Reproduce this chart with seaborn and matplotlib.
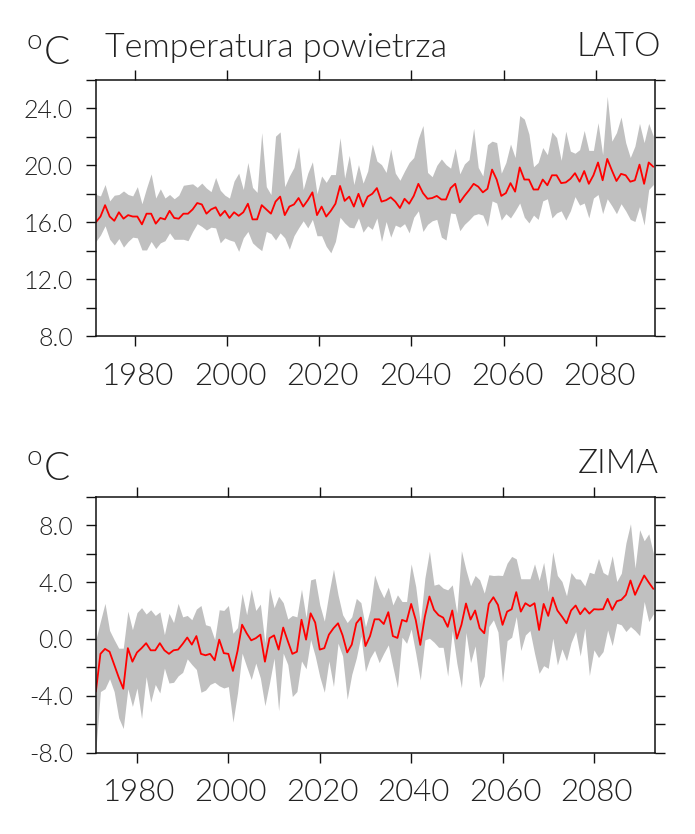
import numpy as np
import pandas as pd
import seaborn as sns
import matplotlib.pyplot as plt
from matplotlib.transforms import ScaledTranslation

# lato - values
lato_mean = [16.0,16.4,17.2,16.4,16.1,16.7,16.25,16.5,16.4,16.4,15.85,16.6,16.6,15.9,16.3,16.2,16.8,16.3,16.25,16.6,
             16.6,16.9,17.35,17.25,16.6,16.9,17.05,16.45,16.8,16.3,16.7,16.45,16.7,17.3,16.2,16.2,17.2,16.9,16.6,17.45,
             17.8,16.5,17.1,17.25,17.7,17.1,17.55,18.1,16.5,17.1,16.4,16.8,17.3,18.55,17.5,17.8,17.1,18.0,17.1,17.8,
             18.0,18.4,17.45,17.55,17.75,17.45,17.0,17.65,17.3,17.85,18.7,18.05,17.65,17.7,17.85,17.6,17.6,18.4,18.7,17.4,
             17.85,18.25,18.7,18.5,18.1,18.35,19.7,19.0,17.85,18.05,18.75,18.15,19.85,19.0,19.0,18.3,18.3,19.0,18.6,19.3,
             19.3,18.75,18.8,19.05,19.45,18.85,19.6,18.7,19.3,20.2,18.95,20.45,19.65,18.9,19.4,19.3,18.85,18.95,20.05,18.7,
             20.2,19.9]
lato_max = [17.95,17.85,18.65,17.5,17.9,17.95,18.2,17.95,17.85,18.5,17.3,18.4,19.4,17.7,18.35,17.7,17.95,17.65,17.9,18.6,
            18.65,18.7,18.45,18.75,18.4,18.15,19.15,18.25,17.9,17.7,18.9,19.45,18.3,20.2,18.45,18.1,22.3,18.5,17.95,22.05,
            22.35,18.5,19.25,19.85,21.3,18.3,19.45,20.25,18.0,19.25,18.8,19.35,19.35,21.95,19.1,20.7,18.65,20.05,18.75,19.6,
            21.5,20.3,20.05,19.5,21.15,19.45,18.95,19.6,20.2,20.55,21.9,22.8,19.5,19.2,20.0,20.45,20.05,19.8,21.2,19.4,
            20.1,20.4,22.6,19.85,19.25,21.45,21.7,21.6,19.45,20.2,21.5,20.55,23.5,23.25,22.2,19.9,20.2,21.25,20.75,22.35,
            21.95,20.35,22.4,21.0,20.85,21.1,22.45,21.05,21.05,23.0,20.75,24.85,21.7,22.3,23.4,21.6,20.55,21.35,22.95,21.6,
            22.95,22.05]
lato_min = [14.65,15.1,15.75,14.8,14.4,14.85,14.25,14.65,14.95,14.9,14.05,14.05,14.65,14.15,14.55,14.7,15.25,14.8,14.8,14.8,
            14.7,15.35,15.9,15.7,15.45,15.65,15.6,14.55,14.9,14.75,14.65,13.95,14.9,15.35,14.55,14.25,14.0,15.35,15.2,14.75,
            15.25,14.9,14.1,15.05,15.6,16.1,15.6,16.2,15.05,15.05,14.3,13.85,14.65,16.35,15.95,15.65,15.6,16.3,15.3,15.75,
            15.5,16.3,14.65,16.05,14.95,15.8,15.65,15.9,15.25,16.35,16.8,15.35,15.85,16.1,16.2,14.95,14.75,16.65,16.6,15.4,
            15.85,16.15,16.5,16.6,16.5,15.7,17.5,17.35,16.15,16.6,16.3,16.8,17.35,16.35,15.95,16.5,16.2,17.5,17.65,16.3,
            16.65,16.8,16.15,16.8,17.8,17.2,17.35,16.3,17.7,17.95,16.6,17.65,17.15,16.6,17.3,16.8,16.2,16.05,17.1,15.8,
            18.3,18.65]

# zima
zima_mean = [-3.7,-1.05,-0.7,-0.9,-1.8,-2.7,-3.5,-0.65,-1.6,-0.95,-0.65,-0.3,-0.8,-0.8,-0.3,-0.8,-1.05,-0.8,-0.75,-0.35,
             0.1,-0.4,0.2,-1.05,-1.15,-1.05,-1.5,-0.05,-1.0,-1.05,-2.25,-0.85,1.0,0.4,-0.1,0.05,0.3,-1.6,0.05,0.25,
             -0.75,0.8,-0.15,-1.05,-0.9,1.35,-0.05,1.8,1.15,-0.75,-0.65,0.3,0.75,1.1,0.25,-0.95,-0.4,1.1,1.5,-0.5,
             0.2,1.38,1.38,1.05,1.88,0.2,0.07,1.34,1.22,2.46,1.34,-0.42,1.57,2.98,2.04,1.67,1.5,0.85,2.0,0.02,
             0.99,2.49,1.36,2.0,0.75,0.4,2.46,2.93,2.39,0.99,1.92,2.09,3.29,1.92,2.51,2.3,2.51,0.63,2.46,1.62,
             2.91,2.0,1.57,1.1,2.0,2.35,1.74,2.16,1.78,2.09,2.07,2.09,2.82,2.04,2.65,2.75,3.1,4.11,3.1,3.8,
             4.46,3.97,3.52]
zima_max = [-0.05,1.25,2.5,0.6,-0.05,-0.65,-0.65,1.95,0.65,1.85,2.2,1.75,2.05,1.65,1.9,0.3,1.8,1.15,2.5,1.55,
            1.65,1.35,2.1,2.35,1.0,0.9,-0.05,2.05,2.0,2.35,0.4,0.8,3.2,1.7,3.5,2.0,2.45,-0.3,3.6,2.2,
            3.0,2.55,1.4,1.65,1.55,3.5,1.5,4.15,4.25,2.4,1.25,3.2,4.9,3.1,1.7,1.15,1.55,2.85,2.55,0.85,
            2.05,4.5,3.57,2.9,3.64,2.39,3.1,2.63,2.63,5.28,3.69,1.1,4.27,6.17,3.78,3.87,3.57,3.45,3.8,1.81,
            6.2,4.86,3.73,4.46,4.15,3.22,4.51,4.46,4.48,4.46,5.33,5.8,5.63,4.23,4.23,4.23,5.28,4.11,5.38,3.33,
            6.13,4.46,4.04,3.03,4.67,4.23,4.2,3.73,4.69,4.58,5.66,4.67,4.48,5.85,4.04,4.62,6.74,8.1,4.98,7.68,
            6.9,7.39,6.03]
zima_min = [-7.8,-3.7,-3.5,-2.8,-3.7,-5.55,-6.3,-3.5,-4.75,-3.45,-5.6,-2.65,-4.45,-3.2,-3.8,-2.05,-3.1,-3.05,-2.6,-2.35,
            -1.4,-1.8,-2.15,-3.75,-3.6,-3.2,-3.05,-3.3,-3.45,-3.35,-5.85,-3.8,-1.0,-1.95,-2.85,-1.7,-2.75,-4.7,-3.1,-1.35,
            -5.05,-1.0,-1.8,-4.05,-3.7,-1.55,-2.1,-0.05,-1.2,-2.65,-3.75,-1.55,-3.35,-0.3,-1.2,-4.25,-2.5,-1.35,0.2,-2.3,
            -1.35,-0.8,-1.67,-1.01,-0.42,-1.95,-3.43,0.12,-0.31,0.7,-1.01,-2.89,-0.07,0.05,-0.23,-0.59,-0.59,-2.61,0.59,-1.71,
            -3.43,0.45,-1.67,-0.49,-3.43,-2.61,0.87,1.34,0.49,-3.05,-0.12,0.12,1.57,-0.82,0.28,0.59,-1.01,-2.42,-1.88,-2.07,
            0.05,-1.83,-0.7,-1.53,-0.26,0.52,-1.2,0.75,-2.58,-0.77,-1.31,-0.89,0.63,-0.47,1.1,0.99,0.52,0.87,0.59,0.23,
            2.63,1.22,1.76]

year_ticks = [1980, 2000, 2020, 2040, 2060, 2080]
lato_yticks = [8, 12, 16, 20, 24]
lato_ylabels = ["8.0", "12.0", "16.0", "20.0", "24.0"]
lato_yminor = [10, 14, 18, 22, 26]
zima_yticks = [-8, -4, 0, 4, 8]
zima_ylabels = ["-8.0", "-4.0", "0.0", "4.0", "8.0"]
zima_yminor = [-6, -2, 2, 6, 10]

W, H = 695, 834
TXT = "#222222"

sns.set_style("ticks")
plt.rcParams["font.family"] = ["Lato", "DejaVu Sans"]
plt.rcParams["font.weight"] = 300


def panel(rect, start, mean, low, high, xlim, ylim, yticks, ylabels, yminor, label_shift):
    left, top, right, bottom = rect
    ax = fig.add_axes([left / W, 1 - bottom / H, (right - left) / W, (bottom - top) / H])
    df = pd.DataFrame({"year": start + np.arange(len(mean)), "mean": mean, "low": low, "high": high})
    ax.fill_between(df["year"], df["low"], df["high"], color="#c0c0c0", lw=0)
    sns.lineplot(data=df, x="year", y="mean", color="#ff0000", lw=1.3, ax=ax, errorbar=None)
    ax.set_xlim(*xlim)
    ax.set_ylim(*ylim)
    ax.set_xlabel("")
    ax.set_ylabel("")
    ax.set_xticks(year_ticks)
    ax.set_yticks(yticks)
    ax.set_yticklabels(ylabels)
    ax.set_yticks(yminor, minor=True)
    ax.tick_params(axis="x", which="major", direction="out", top=True, length=7.5, width=1.0,
                   pad=11, labelsize=22.5, labelcolor=TXT, color="#111111")
    ax.tick_params(axis="y", which="both", direction="out", right=True, length=7.5, width=1.0,
                   pad=9, labelsize=18, labelcolor=TXT, color="#111111")
    # year labels sit a little right of their ticks in the original
    shift = ScaledTranslation(label_shift / 100, 0, fig.dpi_scale_trans)
    for t in ax.get_xticklabels():
        t.set_transform(t.get_transform() + shift)
    for s in ax.spines.values():
        s.set_visible(True)
        s.set_linewidth(1.1)
        s.set_color("#111111")
    return ax


def label(x, y, s, size, ha="left"):
    fig.text(x / W, 1 - y / H, s, fontsize=size, color=TXT, ha=ha, va="baseline")


fig = plt.figure(figsize=(6.95, 8.34), dpi=100)

panel((96, 80, 654.7, 336), 1971.5, lato_mean, lato_min, lato_max, (1971.53, 2092.8), (8, 26),
      lato_yticks, lato_ylabels, lato_yminor, 3.5)
panel((96, 496.7, 654.7, 752.7), 1971, zima_mean, zima_min, zima_max, (1971.03, 2093.3), (-8, 10),
      zima_yticks, zima_ylabels, zima_yminor, 2.5)

label(105, 57, "Temperatura powietrza", 24.5)
label(661, 56, "LATO", 24, ha="right")
label(659, 473, "ZIMA", 24, ha="right")
for y0 in (0, 416):
    label(27, 49 + y0, "o", 20)
    label(44, 64 + y0, "C", 28)

fig.savefig("out.png", dpi=100)
